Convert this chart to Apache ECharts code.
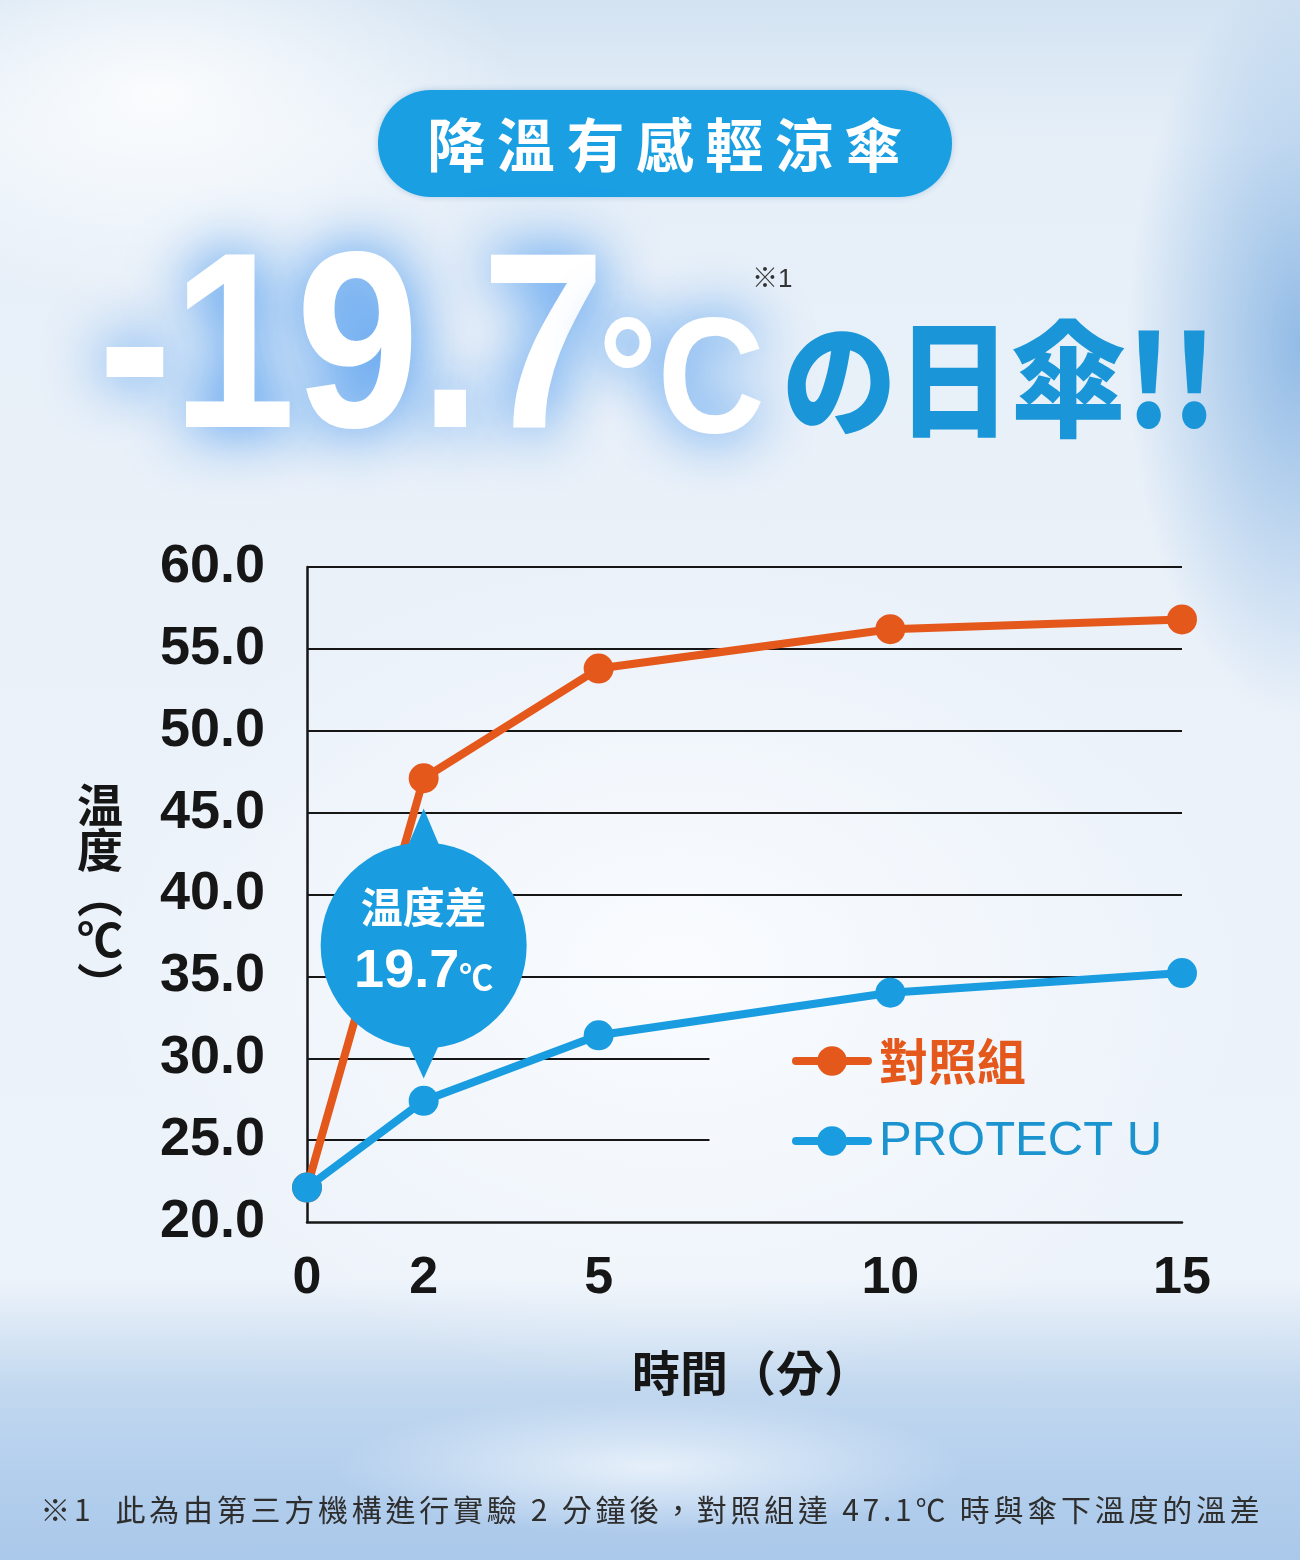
<!DOCTYPE html>
<html>
<head>
<meta charset="utf-8">
<title>降溫有感輕涼傘</title>
<script src="https://cdn.jsdelivr.net/npm/echarts@6.0.0/dist/echarts.min.js"></script>
<style>
  html, body { margin: 0; padding: 0; }
  #main {
    width: 1300px; height: 1560px;
    background:
      radial-gradient(ellipse 520px 300px at 12% 6%, rgba(255,255,255,0.85), rgba(255,255,255,0) 70%),
      radial-gradient(ellipse 240px 520px at 100% 22%, rgba(110,165,222,0.7), rgba(110,165,222,0) 72%),
      radial-gradient(ellipse 780px 560px at 52% 62%, rgba(250,252,255,0.95), rgba(250,252,255,0) 75%),
      radial-gradient(ellipse 420px 90px at 50% 94%, rgba(235,243,251,0.9), rgba(235,243,251,0) 75%),
      linear-gradient(180deg, #d3e3f2 0%, #e6eff8 9%, #eaf1f9 40%, #edf3fa 82%, #c2d8ef 89%, #b7d1ee 93%, #aac8ea 100%);
  }
</style>
</head>
<body>
<div id="main"></div>
<script>
// data
var timeMinutes = [0, 2, 5, 10, 15];
var xTickLabels = [0, 2, 5, 10, 15];
var controlTemps = [22.1, 47.1, 53.8, 56.2, 56.8];   // 對照組
var protectTemps = [22.1, 27.4, 31.4, 34.0, 35.2];   // PROTECT U
var yTicks = [20, 25, 30, 35, 40, 45, 50, 55, 60];

var ORANGE = '#e5581b';
var BLUE = '#1a9de0';
var INK = '#161616';
var LATIN = "'Liberation Sans', Arial, 'Noto Sans CJK TC', sans-serif";
var CJK = "'Noto Sans CJK TC', 'Noto Sans CJK JP', sans-serif";
var GLOW = 'rgba(25,125,235,0.95)';

// grid lines that sit behind the legend are cut short
var legendRows = [25, 30];
var legendCut = 6.9;

var chart = echarts.init(document.getElementById('main'));

var gridLines = yTicks.filter(function (v) { return v > yTicks[0]; }).map(function (v) {
    var end = legendRows.indexOf(v) >= 0 ? legendCut : timeMinutes[timeMinutes.length - 1];
    return [{ coord: [0, v] }, { coord: [end, v] }];
});

function pairs(ys) {
    return timeMinutes.map(function (t, i) { return [t, ys[i]]; });
}

var option = {
    animation: false,
    grid: { left: 307, right: 118, top: 567, bottom: 338 },
    xAxis: {
        type: 'value',
        min: 0, max: 15, interval: 1,
        axisLine: { show: true, onZero: false, lineStyle: { color: INK, width: 2.5 } },
        axisTick: { show: false },
        splitLine: { show: false },
        axisLabel: {
            customValues: xTickLabels,
            margin: 31,
            color: INK, fontSize: 52, fontWeight: 'bold', fontFamily: LATIN
        }
    },
    yAxis: {
        type: 'value',
        min: 20, max: 60, interval: 5,
        axisLine: { show: true, lineStyle: { color: INK, width: 2.5 } },
        axisTick: { show: false },
        splitLine: { show: false },
        axisLabel: {
            margin: 42,
            color: INK, fontSize: 54, fontWeight: 'bold', fontFamily: LATIN,
            formatter: function (v) { return v.toFixed(1); }
        }
    },
    legend: {
        orient: 'vertical',
        left: 787, top: 1026,
        itemWidth: 72, itemHeight: 37, itemGap: 20,
        selectedMode: false,
        lineStyle: { width: 8, cap: 'round' },
        textStyle: { fontSize: 49, lineHeight: 60, fontFamily: LATIN, padding: [0, 0, 0, 6] },
        data: [
            { name: '對照組', textStyle: { color: ORANGE, fontWeight: 'bold', fontFamily: CJK } },
            { name: 'PROTECT U', textStyle: { color: '#1b93cf', fontWeight: 'normal' } }
        ]
    },
    series: [{
        name: '對照組',
        type: 'line',
        z: 2,
        data: pairs(controlTemps),
        symbol: 'circle', symbolSize: 30,
        lineStyle: { color: ORANGE, width: 8 },
        itemStyle: { color: ORANGE },
        emphasis: { disabled: true },
        markLine: {
            z: 1, silent: true, symbol: ['none', 'none'],
            label: { show: false },
            lineStyle: { color: INK, width: 2, type: 'solid' },
            emphasis: { disabled: true },
            data: gridLines
        }
    }, {
        name: 'PROTECT U',
        type: 'line',
        z: 3,
        data: pairs(protectTemps),
        symbol: 'circle', symbolSize: 30,
        lineStyle: { color: BLUE, width: 8 },
        itemStyle: { color: BLUE },
        emphasis: { disabled: true }
    }]
};
chart.setOption(option);

// speech bubble between the two lines at minute 2
var gap = controlTemps[1] - protectTemps[1];
var c = chart.convertToPixel({ xAxisIndex: 0, yAxisIndex: 0 },
    [timeMinutes[1], (controlTemps[1] + protectTemps[1]) / 2]);
var cx = c[0], cy = c[1] + 6;

var footnote = '※1  此為由第三方機構進行實驗 2 分鐘後，對照組達 47.1℃ 時與傘下溫度的溫差';

chart.setOption({
    graphic: [
        // header pill
        {
            type: 'rect', z: 10,
            shape: { x: 378, y: 90, width: 574, height: 107, r: 53 },
            style: { fill: '#1b9fe3', shadowBlur: 6, shadowColor: 'rgba(20,90,160,0.25)' }
        },
        {
            type: 'text', z: 11, x: 665, y: 145,
            style: {
                text: '降\u2009溫\u2009有\u2009感\u2009輕\u2009涼\u2009傘',
                fill: '#fff', font: 'bold 58px ' + CJK, align: 'center', verticalAlign: 'middle'
            }
        },
        // big headline
        {
            type: 'text', z: 11, x: 98, y: 483, scaleX: 0.89,
            style: {
                text: '-19.7', fill: '#fff', verticalAlign: 'bottom',
                font: 'bold 250px ' + LATIN,
                textShadowColor: GLOW, textShadowBlur: 60
            }
        },
        {
            type: 'text', z: 11, x: 598, y: 469, scaleX: 0.9,
            style: {
                text: '°C', fill: '#fff', verticalAlign: 'bottom',
                font: 'bold 165px ' + LATIN,
                textShadowColor: GLOW, textShadowBlur: 55
            }
        },
        {
            type: 'text', z: 12, x: 752, y: 280,
            style: { text: '※1', fill: '#333', font: '26px ' + LATIN, verticalAlign: 'middle' }
        },
        {
            type: 'text', z: 11, x: 782, y: 442, scaleX: 0.91,
            style: {
                text: 'の日傘!!', fill: '#1a96d8', verticalAlign: 'bottom',
                font: '900 126px ' + "'Noto Sans CJK JP', 'Noto Sans CJK TC', sans-serif"
            }
        },
        // axis names
        {
            type: 'text', z: 11, x: 100, y: 895,
            style: {
                text: '温\n度\n︵\n℃\n︶', fill: INK, font: 'bold 46px ' + CJK,
                lineHeight: 45, align: 'center', verticalAlign: 'middle'
            }
        },
        {
            type: 'text', z: 11, x: 752, y: 1373,
            style: { text: '時間（分）', fill: INK, font: 'bold 48px ' + CJK, align: 'center', verticalAlign: 'middle' }
        },
        // bubble
        { type: 'circle', z: 20, shape: { cx: cx, cy: cy, r: 103 }, style: { fill: BLUE } },
        { type: 'polygon', z: 20, shape: { points: [[cx - 22, cy - 85], [cx + 22, cy - 85], [cx, cy - 137]] }, style: { fill: BLUE } },
        { type: 'polygon', z: 20, shape: { points: [[cx - 22, cy + 85], [cx + 22, cy + 85], [cx, cy + 133]] }, style: { fill: BLUE } },
        {
            type: 'text', z: 21, x: cx, y: cy - 38,
            style: { text: '温度差', fill: '#fff', font: 'bold 42px ' + CJK, align: 'center', verticalAlign: 'middle' }
        },
        {
            type: 'text', z: 21, x: cx, y: cy + 27,
            style: {
                text: '{n|' + gap.toFixed(1) + '}{u|℃}', align: 'center', verticalAlign: 'middle',
                rich: {
                    n: { fill: '#fff', fontSize: 54, fontWeight: 'bold', fontFamily: LATIN },
                    u: { fill: '#fff', fontSize: 34, fontWeight: 'bold', fontFamily: CJK, padding: [10, 0, 0, 0] }
                }
            }
        },
        // footnote
        {
            type: 'text', z: 11, x: 650, y: 1510,
            style: {
                text: footnote.split('').join('\u200A\u200A'),
                fill: '#2e2e2e', font: '30px ' + CJK, align: 'center', verticalAlign: 'middle'
            }
        }
    ]
});
</script>
</body>
</html>
